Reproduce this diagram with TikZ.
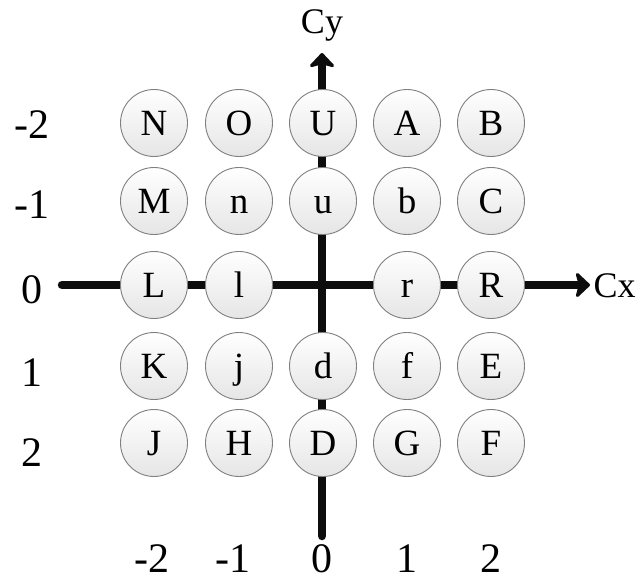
\documentclass[tikz,border=0pt]{standalone}
\usepackage{fontspec}
\setmainfont{Liberation Serif}
\usetikzlibrary{arrows.meta, positioning}
\definecolor{cellEdge}{gray}{0.5}
\definecolor{cellFill}{gray}{0.90}
\definecolor{axisBlack}{gray}{0.05}

\begin{document}
\begin{tikzpicture}[x=1pt, y=-1pt,
    cell/.style={circle, draw=cellEdge, line width=0.9pt, minimum size=67pt, inner sep=0pt,
        top color=white, bottom color=cellFill, font=\fontsize{37}{42}\selectfont,
        text height=24pt, text depth=0pt},
    axis/.style={line width=8.5pt, axisBlack, line cap=round,
        -{Stealth[length=16pt, width=30pt, inset=4pt, round]}},
    tick/.style={font=\fontsize{42}{48}\selectfont, text height=28pt, text depth=0pt},
    axislabel/.style={font=\fontsize{36}{40}\selectfont, text height=24pt, text depth=0pt}]
    \useasboundingbox (0,0) rectangle (636,581);

    % Axes
    \coordinate (xstart) at (62,285);
    \coordinate (xend) at (590,285);
    \coordinate (ystart) at (322,536);
    \coordinate (yend) at (322,53);
    \draw[axis] (xstart) -- (xend);
    \draw[axis] (ystart) -- (yend);
    \node[axislabel, right=0pt of xend] (cx) {Cx};
    \node[axislabel] (cy) at (322,21) {Cy};

    % Cells
    \foreach \name/\cx/\cy in {N/154/123, O/239/123, U/323/123, A/407/123, B/491/123,
        M/154/201, n/239/201, u/323/201, b/407/201, C/491/201,
        L/154/285, l/239/285, r/407/285, R/491/285,
        K/154/366, j/239/366, d/323/366, f/407/366, E/491/366,
        J/154/443, H/239/443, D/323/443, G/407/443, F/491/443}
        \node[cell] (c\name) at (\cx,\cy) {\name};

    % Row numbers
    \foreach \lab/\cy [count=\i] in {-2/124, -1/204, 0/289, 1/372, 2/452}
        \node[tick] (row\i) at (32,\cy) {\lab};

    % Column numbers
    \foreach \lab/\cx [count=\i] in {-2/152, -1/233, 0/322, 1/407, 2/491}
        \node[tick] (col\i) at (\cx,558) {\lab};
\end{tikzpicture}
\end{document}
